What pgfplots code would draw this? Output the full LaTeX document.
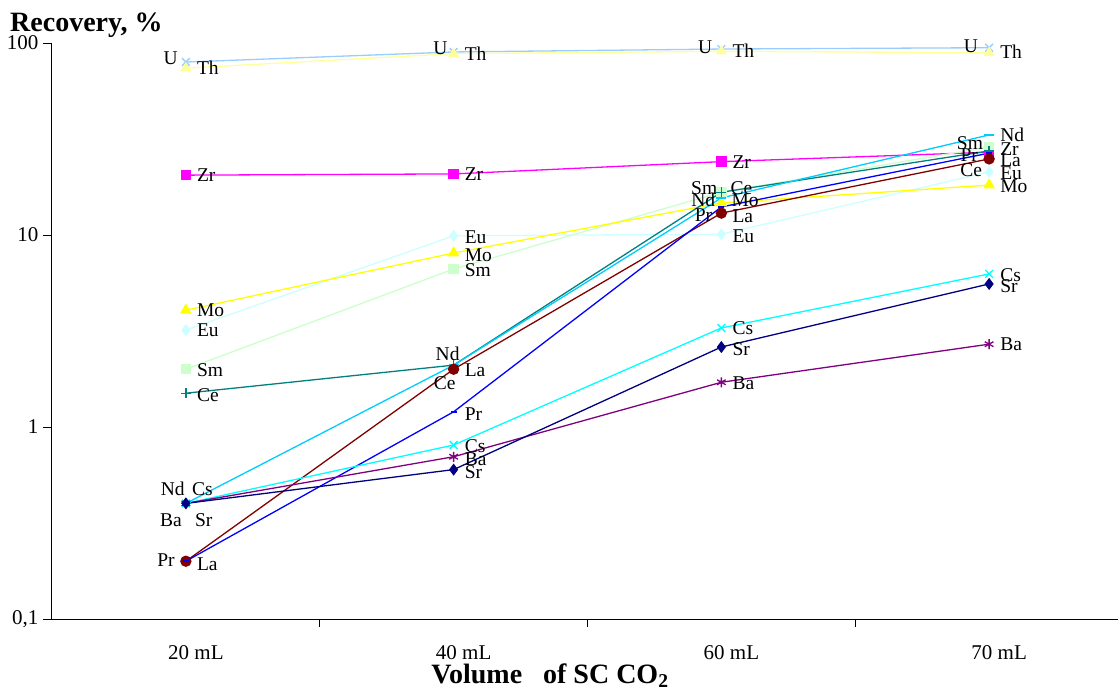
\documentclass[border=0pt]{standalone}
\usepackage{fontspec}
\setmainfont{Liberation Serif}
\usepackage{pgfplots}
\pgfplotsset{compat=1.18}
\definecolor{cU}{HTML}{99CCFF}
\definecolor{cTh}{HTML}{FFFF99}
\definecolor{cZr}{HTML}{FF00FF}
\definecolor{cNd}{HTML}{00CCFF}
\definecolor{cSm}{HTML}{CCFFCC}
\definecolor{cCe}{HTML}{008080}
\definecolor{cMo}{HTML}{FFFF00}
\definecolor{cEu}{HTML}{CCFFFF}
\definecolor{cLa}{HTML}{800000}
\definecolor{cPr}{HTML}{0000FF}
\definecolor{cCs}{HTML}{00FFFF}
\definecolor{cSr}{HTML}{000080}
\definecolor{cBa}{HTML}{800080}
\tikzset{lab/.style={font=\fontsize{19.5}{21}\selectfont, inner sep=0pt}}
\newcommand\lb[6]{\node[lab,anchor=#3,xshift=#4pt,yshift=#5pt] at (axis cs:#1,#2) {#6};}
\begin{document}
\begin{tikzpicture}
\useasboundingbox (-52pt,-74pt) rectangle (1066pt,619pt);
\begin{axis}[
  scale only axis,
  width=1071pt, height=576pt,
  xmin=-0.5, xmax=3.5,
  ymode=log, ymin=0.1, ymax=100,
  axis x line*=bottom, axis y line*=left,
  axis line style={black, line width=1pt, -},
  ytick={0.1,1,10,100},
  yticklabels={{0,1},1,10,100},
  yminorticks=false,
  xtick={0,1,2,3},
  xticklabels={20 mL,40 mL,60 mL,70 mL},
  minor xtick={0.5,1.5,2.5},
  major x tick style={draw=none},
  tick align=outside,
  major tick length=9pt,
  minor tick length=8pt,
  tick style={black, line width=0.8pt},
  ticklabel style={font=\fontsize{21}{24}\selectfont},
  xticklabel style={xshift=10pt, yshift=-14pt},
  yticklabel style={xshift=-1pt},
  clip=false,
  every axis plot/.append style={line width=1.3pt},
]
\addplot[cU, mark=x, mark size=5.5pt] coordinates {(0,79.6)(1,89.8)(2,93)(3,94.5)};
\addplot[cTh, mark=triangle*, mark size=5pt] coordinates {(0,74)(1,88)(2,90.5)(3,89)};
\addplot[cZr, mark=square*, mark size=4.5pt] coordinates {(0,20.5)(1,20.8)(2,24.1)(3,27.0)};
\addplot[cEu, mark=diamond*, mark size=5pt] coordinates {(0,3.2)(1,9.9)(2,10.1)(3,21.3)};
\addplot[cSm, mark=square*, mark size=4.5pt] coordinates {(0,2.0)(1,6.65)(2,16.7)(3,28.7)};
\addplot[cMo, mark=triangle*, mark size=5.5pt] coordinates {(0,4.06)(1,8.06)(2,14.7)(3,18.2)};
\addplot[cCe, mark=+, mark size=5pt] coordinates {(0,1.5)(1,2.1)(2,16.7)(3,27.4)};
\addplot[cNd, mark=-, mark size=5pt, mark options={line width=2pt}] coordinates {(0,0.4)(1,2.1)(2,15.6)(3,33.2)};
\addplot[cLa, mark=*, mark size=5pt] coordinates {(0,0.2)(1,2.0)(2,13.0)(3,24.9)};
\addplot[cPr, mark=-, mark size=3pt, mark options={line width=2pt}] coordinates {(0,0.2)(1,1.2)(2,14.0)(3,26.7)};
\addplot[cCs, mark=x, mark size=5.5pt] coordinates {(0,0.4)(1,0.806)(2,3.28)(3,6.27)};
\addplot[cBa, mark=asterisk, mark size=5pt] coordinates {(0,0.4)(1,0.7)(2,1.71)(3,2.7)};
\addplot[cSr, mark=diamond*, mark size=5pt] coordinates {(0,0.4)(1,0.6)(2,2.61)(3,5.56)};
% labels
\lb{0}{79.6}{east}{-8}{4}{U}
\lb{1}{89.8}{east}{-6}{4}{U}
\lb{2}{93}{east}{-9}{1.5}{U}
\lb{3}{94.5}{east}{-11}{1.5}{U}
\lb{0}{74}{west}{11}{0}{Th}
\lb{1}{88}{west}{11}{0}{Th}
\lb{2}{90.5}{west}{11}{1}{Th}
\lb{3}{89}{west}{11}{1}{Th}
\lb{0}{20.5}{west}{11}{0}{Zr}
\lb{1}{20.8}{west}{11}{0}{Zr}
\lb{2}{24.1}{west}{11}{0}{Zr}
\lb{3}{27}{west}{11}{3.5}{Zr}
\lb{0}{4.06}{west}{11}{0}{Mo}
\lb{1}{8.06}{west}{11}{-2.5}{Mo}
\lb{2}{14.7}{west}{10}{3}{Mo}
\lb{3}{18.2}{west}{11}{-1.5}{Mo}
\lb{0}{3.2}{west}{11}{0}{Eu}
\lb{1}{9.9}{west}{11}{-1.5}{Eu}
\lb{2}{10.1}{west}{11}{-2.5}{Eu}
\lb{3}{21.3}{west}{11}{-1.5}{Eu}
\lb{0}{2.0}{west}{11}{-1}{Sm}
\lb{1}{6.65}{west}{11}{-1}{Sm}
\lb{2}{16.7}{east}{-4}{4}{Sm}
\lb{3}{28.7}{east}{-6}{3.5}{Sm}
\lb{0}{1.5}{west}{11}{-2}{Ce}
\lb{1}{2.1}{center}{-9}{-18.5}{Ce}
\lb{2}{16.7}{west}{9}{4}{Ce}
\lb{3}{27.4}{east}{-7}{-19}{Ce}
\lb{0}{0.4}{east}{-1}{14.5}{Nd}
\lb{1}{2.1}{center}{-6}{11.5}{Nd}
\lb{2}{15.6}{east}{-6}{-2}{Nd}
\lb{3}{33.2}{west}{11}{0}{Nd}
\lb{0}{0.2}{west}{11}{-2.5}{La}
\lb{1}{2.0}{west}{11}{-1}{La}
\lb{2}{13.0}{west}{11}{-3}{La}
\lb{3}{24.9}{west}{11}{-1}{La}
\lb{0}{0.2}{east}{-11}{1}{Pr}
\lb{1}{1.2}{west}{11}{-2}{Pr}
\lb{2}{14.0}{east}{-9}{-8}{Pr}
\lb{3}{26.7}{east}{-11}{-2}{Pr}
\lb{0}{0.4}{west}{6}{14.5}{Cs}
\lb{1}{0.806}{west}{11}{-1}{Cs}
\lb{2}{3.28}{west}{11}{0}{Cs}
\lb{3}{6.27}{west}{11}{-1}{Cs}
\lb{0}{0.4}{west}{9}{-17}{Sr}
\lb{1}{0.6}{west}{11}{-3}{Sr}
\lb{2}{2.61}{west}{11}{-2}{Sr}
\lb{3}{5.56}{west}{11}{-2}{Sr}
\lb{0}{0.4}{east}{-4}{-17}{Ba}
\lb{1}{0.7}{west}{11}{-2}{Ba}
\lb{2}{1.71}{west}{11}{-1}{Ba}
\lb{3}{2.7}{west}{11}{0}{Ba}
\end{axis}
\node[anchor=base west, inner sep=0pt, font=\fontsize{28}{30}\selectfont\bfseries] at (-42pt,587pt) {Recovery, \%};
\node[anchor=base, inner sep=0pt, font=\fontsize{28}{30}\selectfont\bfseries] at (498pt,-64pt) {Volume\ \ \ of SC CO\textsubscript{2}};
\end{tikzpicture}
\end{document}
